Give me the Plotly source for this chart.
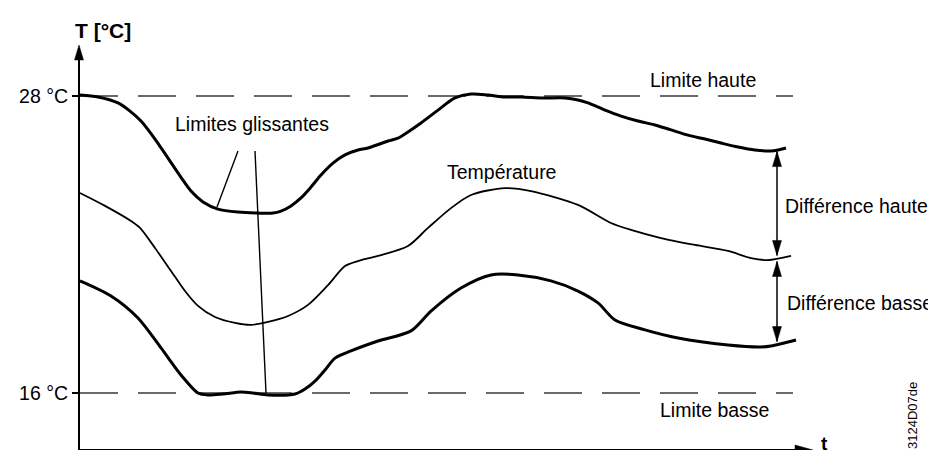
import numpy as np
import plotly.graph_objects as go

# ---------------- data (time in arbitrary units, temperature in °C) ----------------
t_upper = [0, 18, 38, 50, 61, 75, 88, 100, 111, 123, 138, 158, 178, 193, 201, 211, 221, 231, 241, 253,
           265, 278, 288, 308, 318, 328, 341, 358, 375, 391, 408, 425, 441, 463, 485, 498, 508, 525, 541,
           558, 575, 591, 608, 625, 641, 658, 675, 691, 698, 706]
T_upper = [28.04, 27.96, 27.72, 27.39, 26.99, 26.26, 25.49, 24.77, 24.16, 23.72, 23.43, 23.31, 23.27, 23.27,
           23.35, 23.56, 23.88, 24.32, 24.81, 25.29, 25.62, 25.82, 25.90, 26.18, 26.30, 26.55, 26.91, 27.43,
           27.92, 28.08, 28.04, 27.96, 27.96, 27.92, 27.92, 27.84, 27.72, 27.43, 27.19, 26.99, 26.83, 26.63,
           26.42, 26.26, 26.10, 25.94, 25.82, 25.78, 25.82, 25.90]

t_temp = [0, 25, 51, 60, 75, 91, 105, 118, 135, 155, 171, 188, 208, 228, 248, 265, 278, 298, 328, 348,
          371, 391, 425, 451, 498, 531, 551, 581, 615, 648, 671, 688, 711]
T_temp = [24.08, 23.56, 22.95, 22.67, 21.86, 20.93, 20.12, 19.52, 19.07, 18.83, 18.75, 18.87, 19.11, 19.56,
          20.36, 21.13, 21.33, 21.54, 21.94, 22.67, 23.47, 24.00, 24.28, 24.16, 23.60, 22.87, 22.59, 22.26,
          21.98, 21.74, 21.45, 21.37, 21.54]

t_lower = [0, 31, 58, 81, 101, 118, 128, 143, 161, 173, 188, 215, 225, 235, 245, 255, 271, 298, 331, 351,
           381, 411, 438, 471, 498, 518, 535, 565, 598, 648, 681, 691, 716]
T_lower = [20.53, 19.92, 19.03, 17.82, 16.73, 16.00, 15.92, 15.96, 16.04, 16.00, 15.92, 15.96, 16.16, 16.48,
           16.93, 17.41, 17.70, 18.10, 18.51, 19.31, 20.24, 20.77, 20.77, 20.53, 20.12, 19.64, 18.95, 18.55,
           18.22, 17.94, 17.86, 17.90, 18.14]

limit_high = 28
limit_low = 16
t_limit = [0, 713]
t_diff = 697          # time at which the differences are shown

tick_vals = [16, 28]
tick_text = ["16 °C", "28 °C"]

# ---------------- layout helpers ----------------
W, H = 936, 450
ML, MT, MB, MR = 71, 0, 0, 0
PH = H - MT - MB
k = (28 - 16) / (385 - 88)          # °C per pixel
y_top = 28 + 88 * k
y_bot = 28 - (PH - 88) * k


def X(px):
    return px - 72


def Y(py):
    return y_top - py * k


FONT = "Liberation Sans, Arial, sans-serif"
FS = 19.5
AXIS_PY = 442

fig = go.Figure()

dash = "38px,20px"
for lv in (limit_high, limit_low):
    fig.add_trace(go.Scatter(x=t_limit, y=[lv, lv], mode="lines",
                             line=dict(color="#3a3a3a", width=1.5, dash=dash),
                             hoverinfo="skip", showlegend=False))

fig.add_trace(go.Scatter(x=t_upper, y=T_upper, mode="lines",
                         line=dict(color="black", width=3, shape="spline", smoothing=0.8),
                         showlegend=False))
fig.add_trace(go.Scatter(x=t_temp, y=T_temp, mode="lines",
                         line=dict(color="black", width=1.8, shape="spline", smoothing=0.8),
                         showlegend=False))
fig.add_trace(go.Scatter(x=t_lower, y=T_lower, mode="lines",
                         line=dict(color="black", width=3, shape="spline", smoothing=0.8),
                         showlegend=False))

shapes = []


def head(x, y, direction, xref="x", yref="y", L=15, w=9):
    if direction == "up":
        p = f"M0,0 L{-w/2},{-L} L{w/2},{-L} Z"
    elif direction == "down":
        p = f"M0,0 L{-w/2},{L} L{w/2},{L} Z"
    else:
        p = f"M0,0 L{-L},{-w/2} L{-L},{w/2} Z"
    shapes.append(dict(type="path", xref=xref, yref=yref, xsizemode="pixel", ysizemode="pixel",
                       xanchor=x, yanchor=y, path=p, fillcolor="black",
                       line=dict(color="black", width=0.5), layer="above"))


# axes
shapes.append(dict(type="line", xref="paper", yref="y", x0=0, x1=0, y0=Y(AXIS_PY), y1=Y(37 + 10),
                   line=dict(color="black", width=2)))
head(0, Y(37), "up", xref="paper", yref="y")
shapes.append(dict(type="line", xref="x", yref="y", x0=X(71), x1=X(805 - 10), y0=Y(AXIS_PY), y1=Y(AXIS_PY),
                   line=dict(color="black", width=2)))
head(X(805), Y(AXIS_PY), "right", L=18, w=10)

# difference arrows
u = float(np.interp(t_diff, t_upper, T_upper))
m = float(np.interp(t_diff, t_temp, T_temp))
lo = float(np.interp(t_diff, t_lower, T_lower))
for top, bot in ((u - 1.5 * k, m + 3 * k), (m - 3 * k, lo + 3 * k)):
    shapes.append(dict(type="line", xref="x", yref="y", x0=t_diff, x1=t_diff, y0=top, y1=bot,
                       line=dict(color="black", width=1.5)))
    head(t_diff, top, "up")
    head(t_diff, bot, "down")

# leader lines for "Limites glissantes"
for (xa, ya), (xb, yb) in (((230, 143), (209, 199)), ((247, 143), (258, 385))):
    shapes.append(dict(type="line", xref="x", yref="y", x0=X(xa), y0=Y(ya), x1=X(xb), y1=Y(yb),
                       line=dict(color="black", width=1.4)))

ann = []


def txt(s, px, py, xanchor="center", size=FS, bold=False, angle=0):
    ann.append(dict(text=f"<b>{s}</b>" if bold else s, x=X(px), y=Y(py), xref="x", yref="y",
                    xanchor=xanchor, yanchor="middle", showarrow=False, textangle=angle,
                    font=dict(family=FONT, size=size, color="black")))


txt("T [°C]", 95, 22, size=21, bold=True)
txt("Limites glissantes", 244, 116)
txt("Limite haute", 750, 72, xanchor="right")
txt("Température", 493, 164)
txt("Différence haute", 775, 198, xanchor="left")
txt("Différence basse", 777, 295, xanchor="left")
txt("Limite basse", 763, 402, xanchor="right")
txt("t", 816, 435, size=19, bold=True)
txt("3124D07de", 904, 408, size=13, angle=-90)

fig.update_layout(
    width=W, height=H,
    margin=dict(l=ML, r=MR, t=MT, b=MB, pad=0),
    paper_bgcolor="white", plot_bgcolor="white",
    showlegend=False,
    shapes=shapes, annotations=ann,
    xaxis=dict(range=[-1, W - ML - MR - 1], visible=False, fixedrange=True),
    yaxis=dict(range=[y_bot, y_top], showgrid=False, zeroline=False, showline=False,
               tickvals=tick_vals, ticktext=tick_text, ticks="outside", ticklen=6,
               tickwidth=1.5, tickcolor="black",
               tickfont=dict(family=FONT, size=FS, color="black"), fixedrange=True),
)

fig.write_html("out.html")
